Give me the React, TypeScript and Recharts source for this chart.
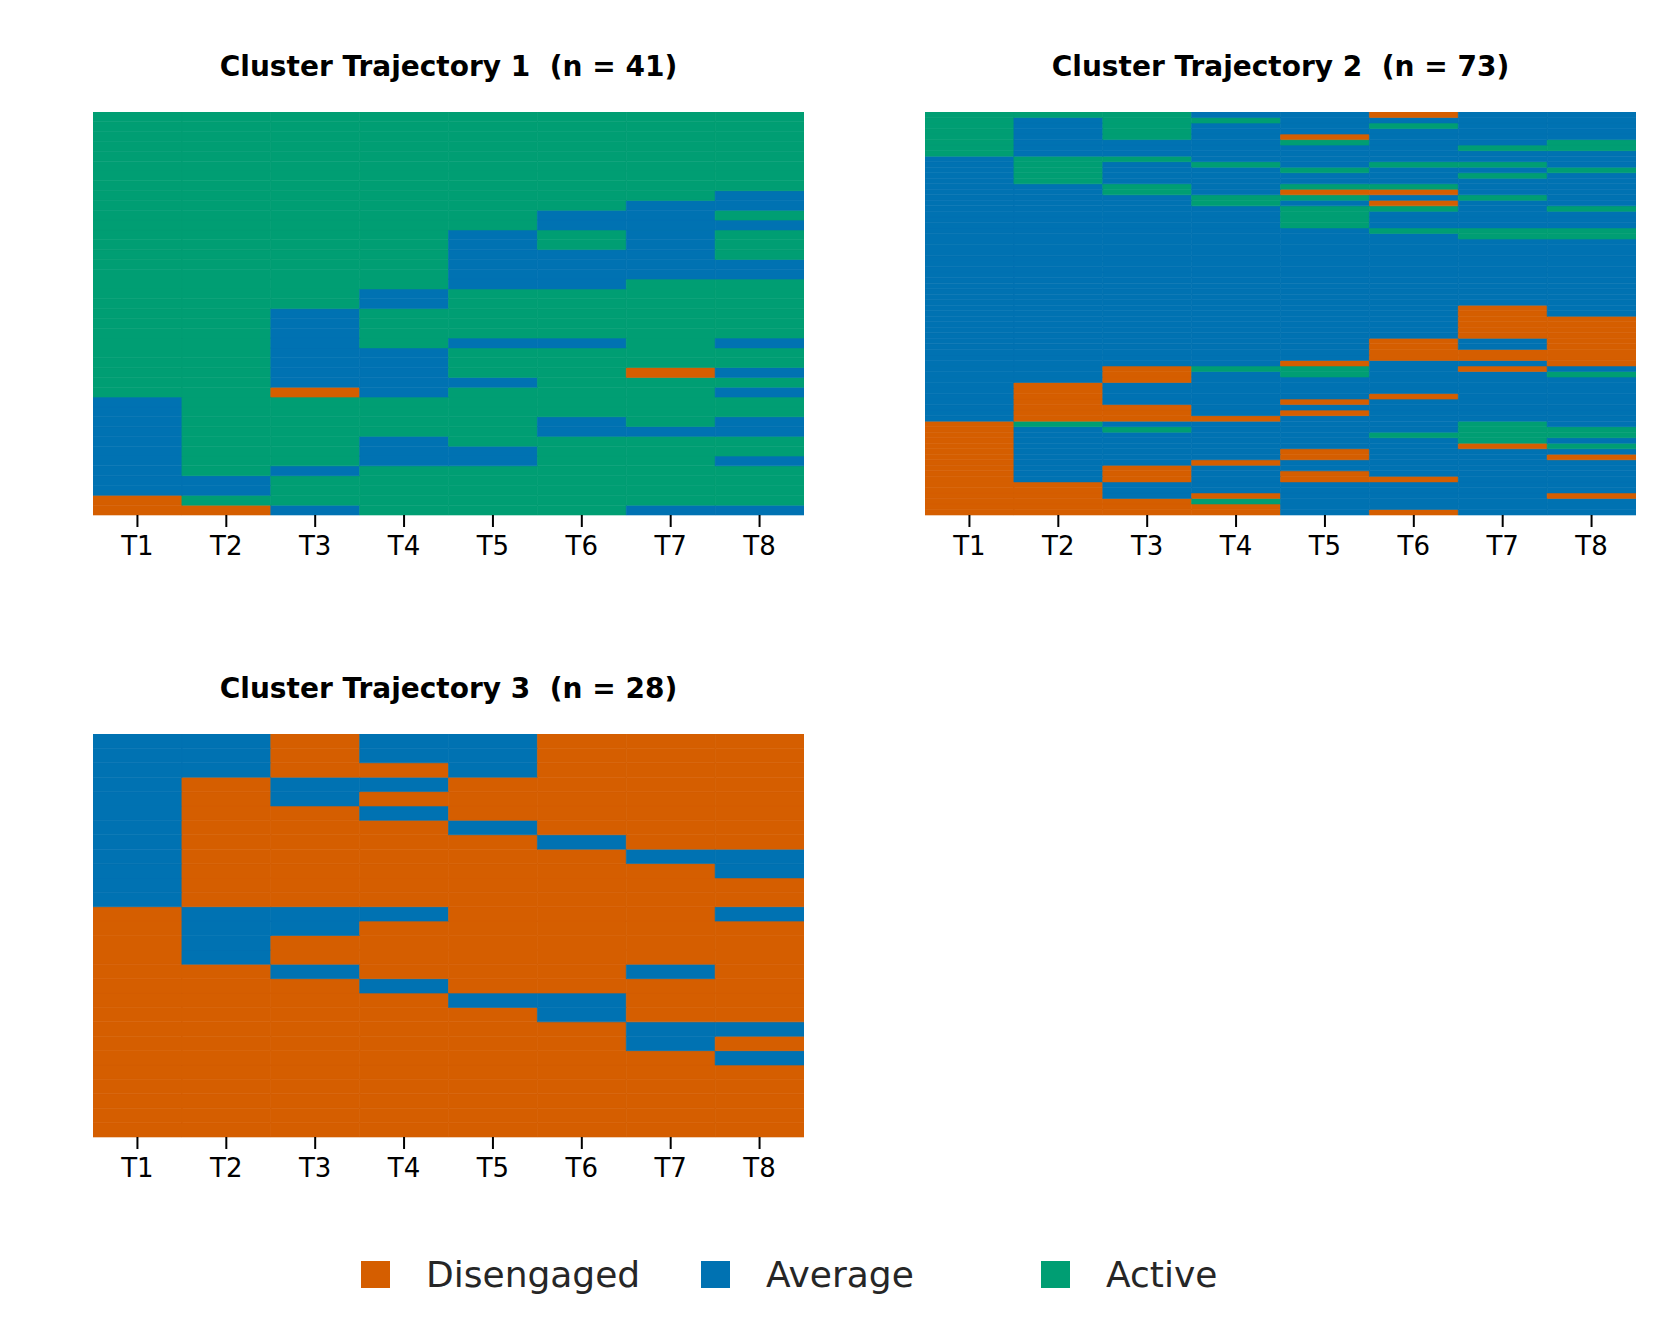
import { BarChart, Bar, Cell, XAxis, YAxis } from 'recharts'

const TIMES = ['T1', 'T2', 'T3', 'T4', 'T5', 'T6', 'T7', 'T8']

const COLORS: Record<string, string> = {
  D: '#D55E00',
  B: '#0072B2',
  G: '#009E73',
}

// run-length per time point, top row first: D = Disengaged, B = Average, G = Active
const cluster1 = [
  'G29 B10 D2',
  'G37 B2 G1 D1',
  'G20 B8 D1 G7 B1 G3 B1',
  'G18 B2 G4 B5 G4 B3 G5',
  'G12 B6 G5 B1 G3 B1 G6 B2 G5',
  'G10 B2 G2 B4 G5 B1 G7 B2 G8',
  'G9 B8 G9 D1 G5 B1 G7 B1',
  'G8 B2 G1 B1 G3 B2 G6 B1 G2 B1 G1 B1 G2 B2 G2 B1 G4 B1',
]

const cluster2 = [
  'G8 B48 D17',
  'G1 B7 G5 B36 D7 G1 B10 D6',
  'G5 B3 G1 B4 G2 B31 D3 B4 D3 B1 G1 B6 D3 B3 D3',
  'B1 G1 B7 G1 B5 G2 B29 G1 B8 D1 B7 D1 B5 D1 G1 D2',
  'B4 D1 G1 B4 G1 B2 G1 D1 G1 B1 G4 B24 D1 G2 B4 D1 B1 D1 B6 D2 B2 D2 B6',
  'D1 B1 G1 B6 G1 B3 G1 D1 B1 D1 G1 B3 G1 B19 D4 B6 D1 B6 G1 B7 D1 B5 D1',
  'B6 G1 B2 G1 B1 G1 B3 G1 B5 G2 B12 D6 B2 D2 B1 D1 B9 G4 D1 B12',
  'B5 G2 B3 G1 B6 G1 B3 G2 B14 D9 B1 G1 B9 G2 B1 G1 B1 D1 B6 D1 B3',
]

const cluster3 = [
  'B12 D16',
  'B3 D9 B4 D12',
  'D3 B2 D7 B2 D2 B1 D11',
  'B2 D1 B1 D1 B1 D6 B1 D4 B1 D10',
  'B3 D3 B1 D11 B1 D9',
  'D7 B1 D10 B2 D8',
  'D8 B1 D7 B1 D3 B2 D6',
  'D8 B2 D2 B1 D7 B1 D1 B1 D5',
]

function expand(rle: string): string[] {
  const out: string[] = []
  rle.split(' ').forEach(tok => {
    const n = parseInt(tok.slice(1), 10)
    for (let i = 0; i < n; i++) out.push(tok[0])
  })
  return out
}

const PLOT_W = 711
const PLOT_H = 403
const AXIS_H = 60

function Panel({ title, cols, left, top }: { title: string; cols: string[]; left: number; top: number }) {
  const seqs = cols.map(expand)
  const n = seqs[0].length
  const data = TIMES.map(t => {
    const row: Record<string, number | string> = { t }
    for (let i = 0; i < n; i++) row['r' + i] = 1
    return row
  })
  // stack from the bottom row up
  const order = Array.from({ length: n }, (_, k) => n - 1 - k)
  return (
    <div style={{ position: 'absolute', left, top: top - 60 }}>
      <div
        style={{
          width: PLOT_W,
          textAlign: 'center',
          fontFamily: 'DejaVu Sans',
          fontWeight: 'bold',
          fontSize: 28,
          whiteSpace: 'pre',
          height: 60,
          lineHeight: '30px',
        }}
      >
        {title}
      </div>
      <BarChart
        width={PLOT_W}
        height={PLOT_H + AXIS_H}
        data={data}
        barCategoryGap={0}
        margin={{ top: 0, right: 0, bottom: 0, left: 0 }}
      >
        <XAxis
          dataKey="t"
          height={AXIS_H}
          axisLine={false}
          tickLine={{ stroke: '#000', strokeWidth: 2 }}
          tickSize={12}
          tick={{ fill: '#000', fontSize: 26, fontFamily: 'DejaVu Sans', dy: 8 }}
        />
        <YAxis hide domain={[0, n]} type="number" />
        {order.map(i => (
          <Bar key={i} dataKey={'r' + i} stackId="s" isAnimationActive={false}>
            {seqs.map((s, c) => (
              <Cell key={c} fill={COLORS[s[i]]} stroke={COLORS[s[i]]} strokeWidth={0.6} />
            ))}
          </Bar>
        ))}
      </BarChart>
    </div>
  )
}

const LEGEND = [
  { label: 'Disengaged', key: 'D', x: 361 },
  { label: 'Average', key: 'B', x: 701 },
  { label: 'Active', key: 'G', x: 1041 },
]

export default function App() {
  return (
    <div style={{ position: 'absolute', left: 0, top: 0, width: 1680, height: 1320, background: '#fff' }}>
      <Panel title="Cluster Trajectory 1  (n = 41)" cols={cluster1} left={93} top={112} />
      <Panel title="Cluster Trajectory 2  (n = 73)" cols={cluster2} left={925} top={112} />
      <Panel title="Cluster Trajectory 3  (n = 28)" cols={cluster3} left={93} top={734} />
      {LEGEND.map(l => (
        <div key={l.key} style={{ position: 'absolute', left: l.x, top: 1254, display: 'flex', alignItems: 'center' }}>
          <div style={{ width: 29, height: 27, background: COLORS[l.key] }} />
          <span style={{ marginLeft: 36, fontFamily: 'DejaVu Sans', fontSize: 36, color: '#262626' }}>{l.label}</span>
        </div>
      ))}
    </div>
  )
}
